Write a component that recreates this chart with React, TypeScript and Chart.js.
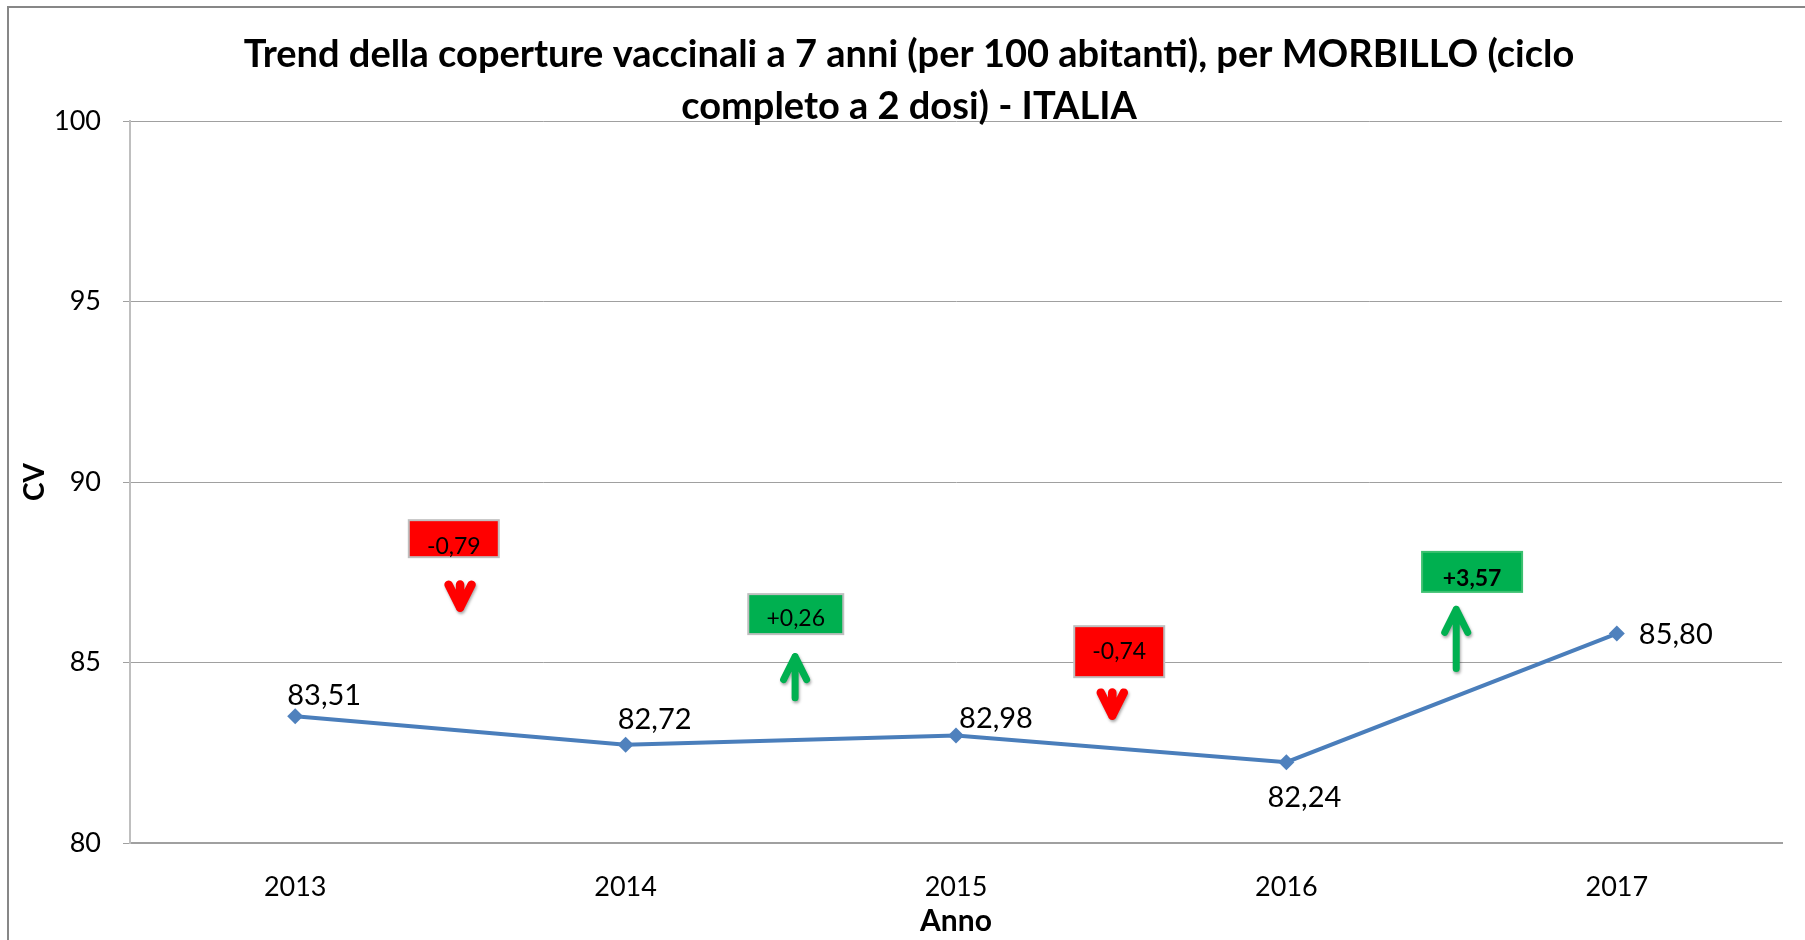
import React, { useEffect, useRef } from "react";
import { Chart, registerables } from "chart.js";

Chart.register(...registerables);

// ---------- data ----------
const years = ["2013", "2014", "2015", "2016", "2017"];
const coverage = [83.51, 82.72, 82.98, 82.24, 85.8];
const coverageLabels = ["83,51", "82,72", "82,98", "82,24", "85,80"];
const deltaLabels = ["-0,79", "+0,26", "-0,74", "+3,57"];
const deltaDirections = ["down", "up", "down", "up"];
const yTickValues = [80, 85, 90, 95, 100];
const titleLines = [
  "Trend della coperture vaccinali a 7 anni (per 100 abitanti), per MORBILLO (ciclo",
  "completo a 2 dosi) - ITALIA",
];
const xAxisTitle = "Anno";
const yAxisTitle = "CV";

// ---------- layout / style (not data) ----------
const W = 1796;
const H = 932;
const LINE_COLOR = "#4A7EBB";
const RED = "#FF0000";
const GREEN = "#00B050";

// pixel offsets of each value label from its point
const labelOffsets = [
  { dx: 29, dy: -21 },
  { dx: 29, dy: -25 },
  { dx: 40, dy: -17 },
  { dx: 18, dy: 36 },
  { dx: 59, dy: 1 },
];

// delta boxes: x in category index units, y in value units
const deltaBoxes = [
  { x: 0.48, y: 88.43, w: 90, h: 37, textDy: 8, bold: false, border: "#BFBFBF" },
  { x: 1.515, y: 86.34, w: 95, h: 40, textDy: 4, bold: false, border: "#BFBFBF" },
  { x: 2.494, y: 85.3, w: 90, h: 51, textDy: 0, bold: false, border: "#BFBFBF" },
  { x: 3.562, y: 87.51, w: 100, h: 40, textDy: 7, bold: true, border: "#3CC070" },
];
const deltaArrows = [
  { x: 0.499, from: 87.28, to: 86.4, lw: 8.5 },
  { x: 1.513, from: 83.93, to: 85.26, lw: 7 },
  { x: 2.473, from: 84.29, to: 83.41, lw: 8.5 },
  { x: 3.514, from: 84.74, to: 86.57, lw: 7 },
];

const overlayPlugin = {
  id: "overlay",
  afterDatasetsDraw(chart: any) {
    const ctx = chart.ctx as CanvasRenderingContext2D;
    const xs = chart.scales.x;
    const ys = chart.scales.y;

    // value labels
    const meta = chart.getDatasetMeta(0);
    ctx.save();
    ctx.font = "29px Lato";
    ctx.fillStyle = "#000";
    ctx.textAlign = "center";
    ctx.textBaseline = "middle";
    meta.data.forEach((pt: any, i: number) => {
      const o = labelOffsets[i];
      ctx.fillText(coverageLabels[i], pt.x + o.dx, pt.y + o.dy);
    });
    ctx.restore();

    // delta boxes
    deltaBoxes.forEach((b, i) => {
      const cx = xs.getPixelForValue(b.x);
      const cy = ys.getPixelForValue(b.y);
      const color = deltaDirections[i] === "up" ? GREEN : RED;
      ctx.save();
      ctx.fillStyle = color;
      ctx.fillRect(cx - b.w / 2, cy - b.h / 2, b.w, b.h);
      ctx.strokeStyle = b.border;
      ctx.lineWidth = 2;
      ctx.strokeRect(cx - b.w / 2, cy - b.h / 2, b.w, b.h);
      ctx.fillStyle = "#000";
      ctx.font = (b.bold ? "bold " : "") + "23px Lato";
      ctx.textAlign = "center";
      ctx.textBaseline = "middle";
      ctx.fillText(deltaLabels[i], cx, cy + b.textDy);
      ctx.restore();
    });

    // arrows
    deltaArrows.forEach((a, i) => {
      const x = xs.getPixelForValue(a.x);
      const y0 = ys.getPixelForValue(a.from);
      const y1 = ys.getPixelForValue(a.to);
      const dir = y1 > y0 ? 1 : -1;
      const color = deltaDirections[i] === "up" ? GREEN : RED;
      const lw = a.lw;
      const tipY = y1 - dir * (lw / 2);
      const startY = y0 + dir * (lw / 2);
      const headLen = 23;
      const half = 11.5;
      ctx.save();
      ctx.shadowColor = "rgba(0,0,0,0.35)";
      ctx.shadowBlur = 3;
      ctx.shadowOffsetX = 1;
      ctx.shadowOffsetY = 2;
      ctx.strokeStyle = color;
      ctx.lineWidth = lw;
      ctx.lineCap = "round";
      ctx.lineJoin = "round";
      ctx.beginPath();
      ctx.moveTo(x, startY);
      ctx.lineTo(x, tipY);
      ctx.moveTo(x - half, tipY - dir * headLen);
      ctx.lineTo(x, tipY);
      ctx.lineTo(x + half, tipY - dir * headLen);
      ctx.stroke();
      ctx.restore();
    });
  },
  afterDraw(chart: any) {
    const ctx = chart.ctx as CanvasRenderingContext2D;
    ctx.save();
    ctx.font = "bold 38px Lato";
    ctx.fillStyle = "#000";
    ctx.textAlign = "center";
    ctx.textBaseline = "middle";
    ctx.fillText(titleLines[0], chart.width / 2 + 2, 47);
    ctx.fillText(titleLines[1], chart.width / 2 + 2, 99);
    ctx.restore();
  },
};

export default function App() {
  const ref = useRef<HTMLCanvasElement | null>(null);

  useEffect(() => {
    document.body.style.overflow = "hidden";
    const canvas = ref.current;
    if (!canvas) return;
    const chart = new Chart(canvas, {
      type: "line",
      data: {
        labels: years,
        datasets: [
          {
            data: coverage,
            borderColor: LINE_COLOR,
            borderWidth: 4,
            pointStyle: "rectRot",
            pointRadius: 8,
            pointBackgroundColor: "#4F81BD",
            pointBorderColor: "#4F81BD",
            pointBorderWidth: 0,
            tension: 0,
          },
        ],
      },
      options: {
        responsive: false,
        animation: false,
        devicePixelRatio: 1,
        layout: { padding: { top: 113, right: 23, left: 0, bottom: 0 } },
        plugins: {
          legend: { display: false },
          tooltip: { enabled: false },
          title: { display: false },
        },
        scales: {
          x: {
            type: "category",
            offset: true,
            grid: { display: false, drawTicks: false },
            border: { display: true, color: "#A0A0A0", width: 2 },
            ticks: {
              padding: 28,
              color: "#000",
              font: { family: "Lato", size: 27 },
              maxRotation: 0,
            },
            title: {
              display: true,
              text: xAxisTitle,
              color: "#000",
              font: { family: "Lato", size: 30, weight: "bold" },
              padding: { top: 0, bottom: 1 },
            },
            afterFit(scale: any) {
              scale.height = 97;
            },
          },
          y: {
            min: 80,
            max: 100,
            afterBuildTicks(scale: any) {
              scale.ticks = yTickValues.map((v) => ({ value: v }));
            },
            grid: { color: "#A0A0A0", lineWidth: 1, drawTicks: true, tickLength: 7 },
            border: { display: true, color: "#BFBFBF", width: 2 },
            ticks: {
              padding: 22,
              color: "#000",
              font: { family: "Lato", size: 27 },
            },
            title: {
              display: true,
              text: yAxisTitle,
              color: "#000",
              font: { family: "Lato", size: 28, weight: "bold" },
              padding: { top: 9, bottom: 0 },
            },
            afterFit(scale: any) {
              scale.width = 121;
            },
          },
        },
      },
      plugins: [overlayPlugin],
    });
    return () => chart.destroy();
  }, []);

  return (
    <div
      style={{
        position: "absolute",
        left: 7,
        top: 6,
        width: 1798,
        height: 934,
        borderLeft: "2px solid #878787",
        borderTop: "2px solid #878787",
        overflow: "hidden",
        background: "#fff",
      }}
    >
      <canvas ref={ref} width={W} height={H} style={{ display: "block" }} />
    </div>
  );
}
